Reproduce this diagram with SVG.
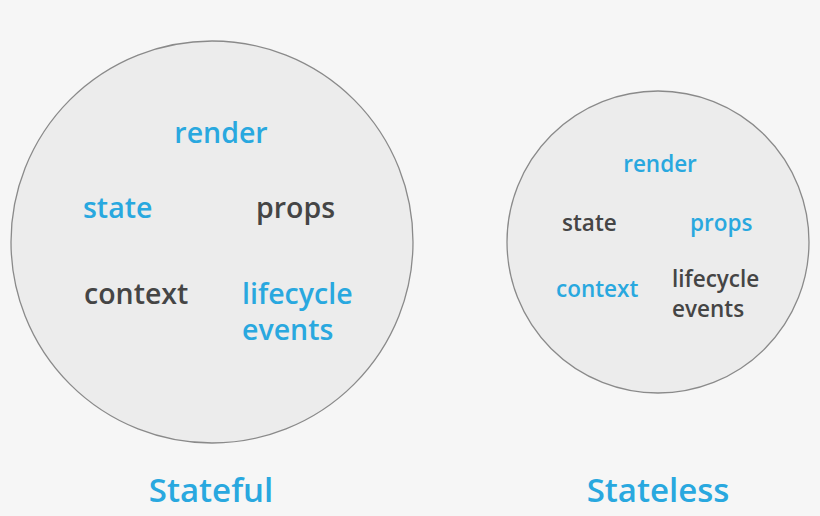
<svg xmlns="http://www.w3.org/2000/svg" width="820" height="516" viewBox="0 0 820 516">
<style>
.c{fill:#ececec;stroke:#8a8a8a;stroke-width:1.3}
text{font-family:"Open Sans","Liberation Sans",sans-serif;font-weight:600}
.b{fill:#29a8df}.d{fill:#454545}
.L{font-size:28.5px}.S{font-size:22.5px}.T{font-size:33px}
</style>
<rect width="820" height="516" fill="#f6f6f6"/>
<g id="stateful">
<circle class="c" cx="212" cy="242" r="201"/>
<text class="b L" x="221" y="143" text-anchor="middle">render</text>
<text class="b L" x="83" y="218">state</text>
<text class="d L" x="256" y="218">props</text>
<text class="d L" x="84" y="304">context</text>
<text class="b L" x="242" y="304">lifecycle</text>
<text class="b L" x="242" y="340">events</text>
<text class="b T" x="211" y="502" text-anchor="middle">Stateful</text>
</g>
<g id="stateless">
<circle class="c" cx="658" cy="242" r="151"/>
<text class="b S" x="660" y="172" text-anchor="middle">render</text>
<text class="d S" x="562" y="231">state</text>
<text class="b S" x="690" y="231">props</text>
<text class="b S" x="556" y="297">context</text>
<text class="d S" x="672" y="287">lifecycle</text>
<text class="d S" x="672" y="317">events</text>
<text class="b T" x="658" y="502" text-anchor="middle">Stateless</text>
</g>
<g id="connectors"/>
</svg>
